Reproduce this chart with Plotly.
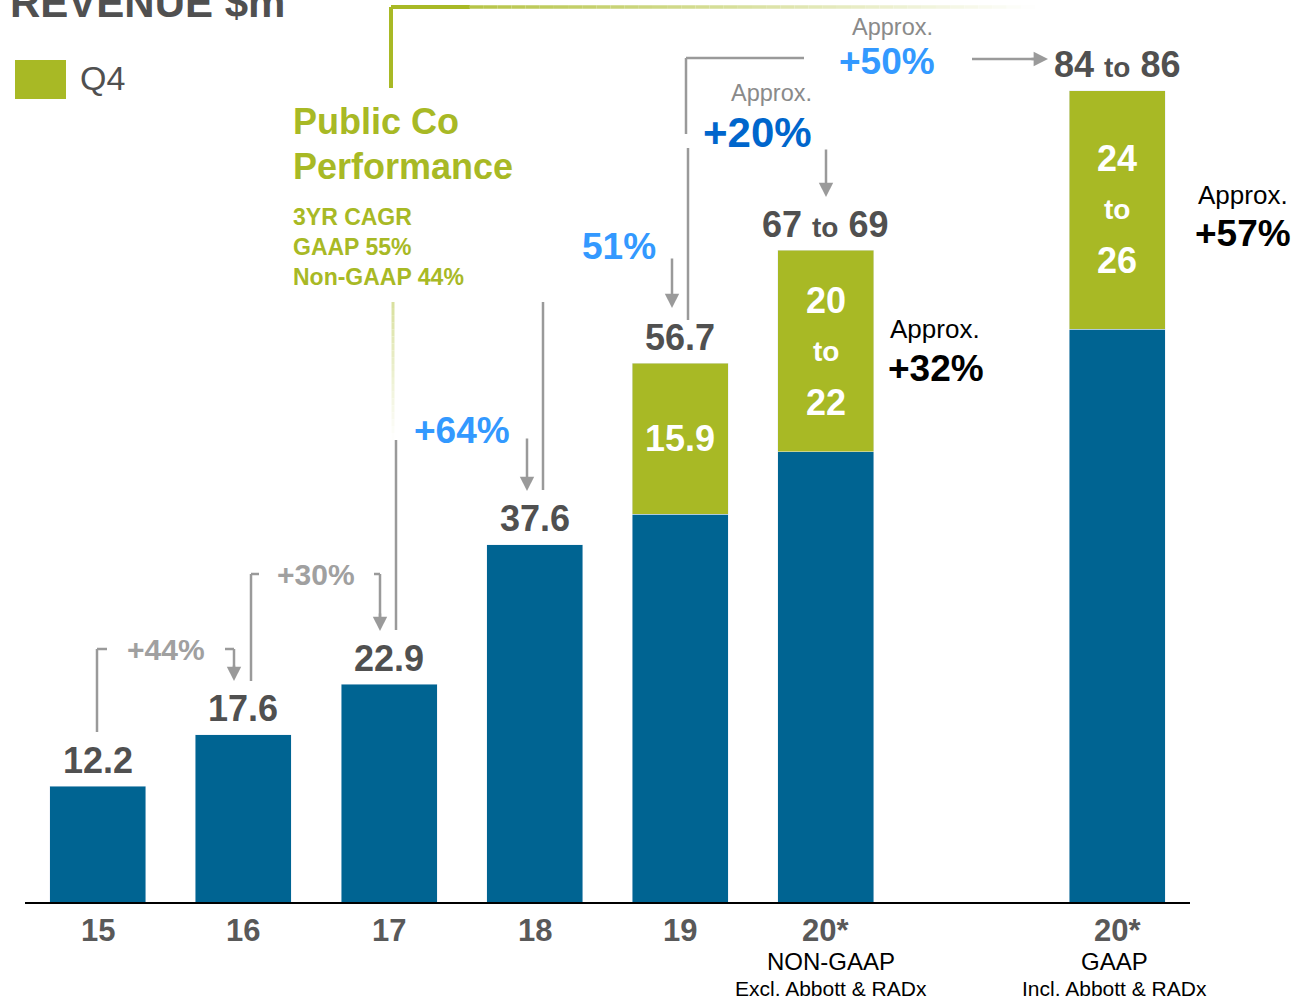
import plotly.graph_objects as go

# ---------------- data ----------------
categories = ["15", "16", "17", "18", "19", "20* NON-GAAP", "20* GAAP"]
slot_order = ["15", "16", "17", "18", "19", "20* NON-GAAP", "", "20* GAAP"]  # blank slot = gap
rest_of_year = [12.2, 17.6, 22.9, 37.6, 40.8, 47.4, 60.3]
q4_values = [None, None, None, None, 15.9, 21.2, 25.1]
total_labels = ["12.2", "17.6", "22.9", "37.6", "56.7", "67 to 69", "84 to 86"]
q4_labels = ["", "", "", "", "15.9", "20 to 22", "24 to 26"]
tick_main = ["15", "16", "17", "18", "19", "20*", "20*"]
tick_sub = ["", "", "", "", "", "NON-GAAP", "GAAP"]
tick_note = ["", "", "", "", "", "Excl. Abbott & RADx", "Incl. Abbott & RADx"]
growth_small = ["+44%", "+30%"]
growth_big = ["+64%", "51%"]
cagr_lines = ["3YR CAGR", "GAAP 55%", "Non-GAAP 44%"]

# ---------------- style ----------------
FONT = "Liberation Sans, Arial, sans-serif"
BLUE = "#006492"
GREEN = "#a8b925"
DARK = "#505050"
TICK = "#595959"
LINE = "#9a9a9a"
LIGHTBLUE = "#3399ff"
MIDBLUE = "#0066cc"
APPROX = "#8a8a8a"

W, H = 1311, 1000
L, R, T, B = 25, 121, 0, 98
PW, PH = W - L - R, H - T - B

xpos = [slot_order.index(c) for c in categories]
totals = [r + (q if q else 0) for r, q in zip(rest_of_year, q4_values)]


def P(px, py):
    """pixel -> paper coordinates"""
    return (px - L) / PW, (H - B - py) / PH


fig = go.Figure()
fig.add_trace(go.Bar(x=xpos, y=rest_of_year, marker_color=BLUE, width=0.66,
                     showlegend=False, hoverinfo="skip"))
fig.add_trace(go.Bar(x=xpos, y=q4_values, marker_color=GREEN, width=0.66,
                     name="Q4", showlegend=False, hoverinfo="skip"))

ann = []
shapes = []


def text(px, py, s, size, color, bold=False, xanchor="center", yanchor="middle", align="center"):
    x, y = P(px, py)
    ann.append(dict(x=x, y=y, xref="paper", yref="paper", text=(f"<b>{s}</b>" if bold else s),
                    showarrow=False, xanchor=xanchor, yanchor=yanchor, align=align,
                    font=dict(family=FONT, size=size, color=color)))


def poly(points, color=LINE, width=2.5):
    for (x0, y0), (x1, y1) in zip(points[:-1], points[1:]):
        a, b = P(x0, y0)
        c, d = P(x1, y1)
        shapes.append(dict(type="line", xref="paper", yref="paper", x0=a, y0=b, x1=c, y1=d,
                           line=dict(color=color, width=width)))


def arrow(tip, tail, color=LINE):
    x, y = P(*tip)
    ann.append(dict(x=x, y=y, xref="paper", yref="paper", text="", showarrow=True,
                    ax=tail[0] - tip[0], ay=tail[1] - tip[1], arrowhead=2, arrowsize=1.15,
                    arrowwidth=2.5, arrowcolor=color))


def mix(c1, c2, t):
    return "rgb(%d,%d,%d)" % tuple(round(a + (b - a) * t) for a, b in zip(c1, c2))


# bar total labels (above bars)
for xp, tot, lab in zip(xpos, totals, total_labels):
    lab_html = lab.replace(" to ", " <span style='font-size:28px'>to</span> ")
    ann.append(dict(x=xp, y=tot, xref="x", yref="y", text=f"<b>{lab_html}</b>", showarrow=False,
                    yanchor="middle", yshift=26, font=dict(family=FONT, size=36, color=DARK)))

# Q4 labels (inside green segments)
for xp, base, q, lab in zip(xpos, rest_of_year, q4_values, q4_labels):
    if not q:
        continue
    parts = lab.split(" ")
    if len(parts) == 1:
        offs = [(parts[0], 0, 36)]
    else:
        offs = [(parts[0], 51, 36), (parts[1], 0, 28), (parts[2], -51, 36)]
    for s, sh, sz in offs:
        ann.append(dict(x=xp, y=base + q / 2, xref="x", yref="y", text=f"<b>{s}</b>",
                        showarrow=False, yanchor="middle", yshift=sh,
                        font=dict(family=FONT, size=sz, color="white")))

# x tick labels
sub_shift = {"NON-GAAP": 5, "GAAP": -3}
for xp, m, s, n in zip(xpos, tick_main, tick_sub, tick_note):
    ann.append(dict(x=xp, y=0, xref="x", yref="paper", text=f"<b>{m}</b>", showarrow=False,
                    yanchor="middle", yshift=-28, font=dict(family=FONT, size=31, color=TICK)))
    if s:
        ann.append(dict(x=xp, y=0, xref="x", yref="paper", text=s, showarrow=False,
                        yanchor="middle", yshift=-59, xshift=sub_shift.get(s, 0),
                        font=dict(family=FONT, size=24, color="black")))
    if n:
        ann.append(dict(x=xp, y=0, xref="x", yref="paper", text=n, showarrow=False,
                        yanchor="middle", yshift=-86, xshift=sub_shift.get(s, 0),
                        font=dict(family=FONT, size=21, color="black")))

# title + legend
text(8, 2.5, "REVENUE $m", 42, DARK, bold=True, xanchor="left")
a, b = P(15, 99)
c, d = P(66, 60)
shapes.append(dict(type="rect", xref="paper", yref="paper", x0=a, y0=b, x1=c, y1=d,
                   fillcolor=GREEN, line=dict(width=0)))
text(78, 78, "Q4", 34, DARK, xanchor="left")

# Public Co performance block
text(291, 121, "Public Co", 36, GREEN, bold=True, xanchor="left")
text(291, 166, "Performance", 36, GREEN, bold=True, xanchor="left")
text(291, 247, "<br>".join(cagr_lines), 23, GREEN, bold=True, xanchor="left", align="left")

g = (168, 185, 37)
wht = (255, 255, 255)
poly([(391, 88), (391, 7), (470, 7)], color=GREEN, width=4)
N = 40
for i in range(N):
    x0 = 469 + (1035 - 469) * i / N
    x1 = 469 + (1035 - 469) * (i + 1) / N
    poly([(x0, 7), (x1, 7)], color=mix(g, wht, 0.15 + 0.85 * (i + 0.5) / N), width=3.5)
for i in range(20):
    y0 = 302 + (440 - 302) * i / 20
    y1 = 302 + (440 - 302) * (i + 1) / 20
    poly([(393, y0), (393, y1)], color=mix(g, wht, 0.55 + 0.45 * (i + 0.5) / 20), width=3)

# growth connectors
poly([(97, 732), (97, 649), (107, 649)])
poly([(225, 649), (234, 649), (234, 668)])
arrow((234, 681), (234, 664))
text(166, 649, growth_small[0], 30, "#a0a0a0", bold=True)

poly([(251, 681), (251, 574), (259, 574)])
poly([(374, 574), (380, 574), (380, 618)])
arrow((380, 631), (380, 612))
text(316, 574, growth_small[1], 30, "#a0a0a0", bold=True)

poly([(396, 630), (396, 440)])
poly([(543, 490), (543, 302)])
arrow((527, 491), (527, 437))
text(462, 430, growth_big[0], 37, LIGHTBLUE, bold=True)

arrow((672, 308), (672, 257))
text(619, 247, growth_big[1], 37, LIGHTBLUE, bold=True)

poly([(688, 320), (688, 148)])
poly([(686, 134), (686, 58), (804, 58)])
text(771, 93, "Approx.", 23.5, APPROX)
text(757, 132, "+20%", 42, MIDBLUE, bold=True)
arrow((826, 197), (826, 148))

text(892, 27, "Approx.", 23.5, APPROX)
text(887, 62, "+50%", 37, LIGHTBLUE, bold=True)
poly([(972, 59), (1036, 59)])
arrow((1048, 59), (1030, 59))

text(935, 329, "Approx.", 26, "black")
text(936, 368, "+32%", 37, "black", bold=True)
text(1243, 195, "Approx.", 26, "black")
text(1243, 233, "+57%", 37, "black", bold=True)

fig.update_layout(
    width=W, height=H,
    margin=dict(l=L, r=R, t=T, b=B, pad=0),
    paper_bgcolor="white", plot_bgcolor="white",
    barmode="stack", bargap=0.34,
    font=dict(family=FONT),
    xaxis=dict(range=[-0.5, len(slot_order) - 0.5], showgrid=False, zeroline=False,
               showline=True, linecolor="black", linewidth=2, showticklabels=False, ticks=""),
    yaxis=dict(range=[0, PH / 9.5], showgrid=False, zeroline=False, showline=False,
               showticklabels=False, ticks=""),
    annotations=ann, shapes=shapes,
)

fig.write_html("out.html", config={"displayModeBar": False},
               post_script="document.body.style.margin='0';")
